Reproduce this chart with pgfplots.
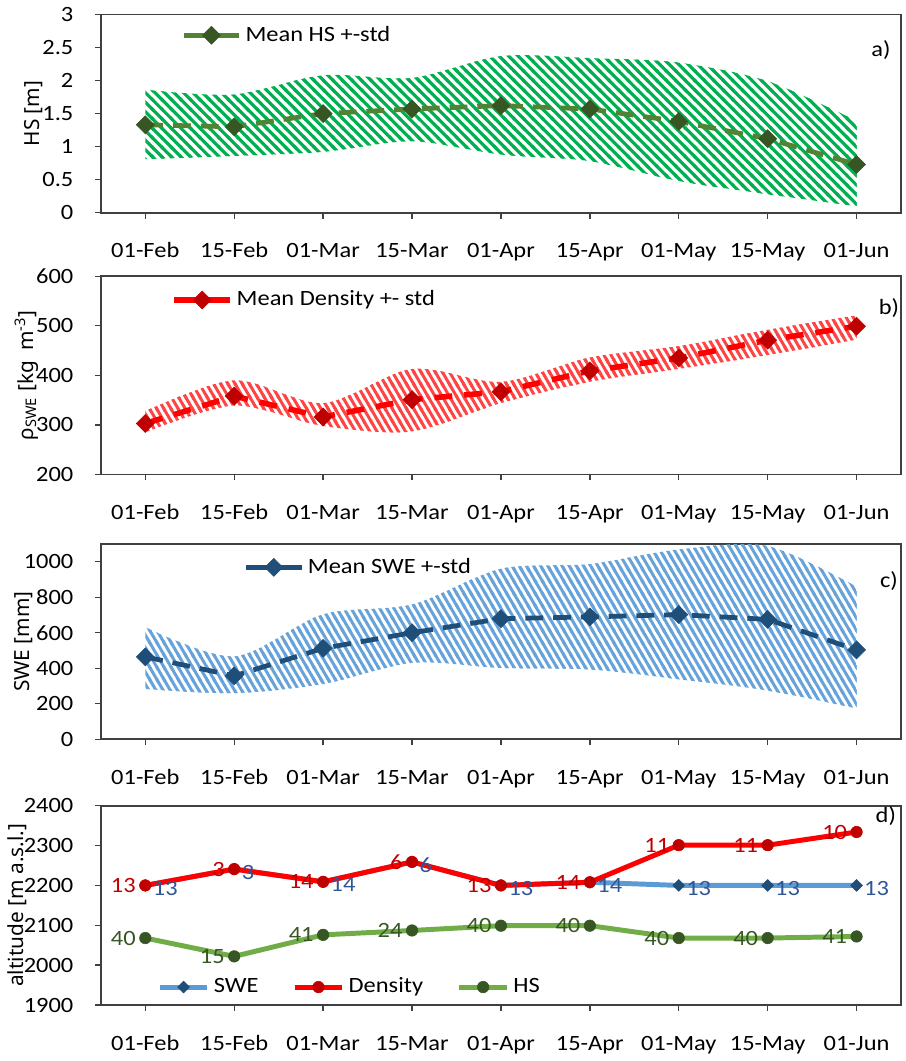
\documentclass[border=0pt]{standalone}
\usepackage{fontspec}
\setmainfont{Carlito}[FakeStretch=1.12]
\newfontfamily\labfont{Noto Sans}
\usepackage{pgfplots}
\pgfplotsset{compat=1.18}
\usepgfplotslibrary{fillbetween}
\usetikzlibrary{patterns}

\definecolor{hsline}{HTML}{548235}
\definecolor{hsmark}{HTML}{375623}
\definecolor{hsband}{HTML}{00B050}
\definecolor{dline}{HTML}{FF0000}
\definecolor{dmark}{HTML}{C00000}
\definecolor{dband}{HTML}{FF4444}
\definecolor{sline}{HTML}{1F4E79}
\definecolor{sband}{HTML}{67A3DB}
\definecolor{swel}{HTML}{5B9BD5}
\definecolor{hsl}{HTML}{70AD47}
\definecolor{slab}{HTML}{2F5597}

% wide downward diagonal stripes, 45 deg
\pgfdeclarepatternformonly{stripesflat}{\pgfqpoint{-1pt}{-1pt}}{\pgfqpoint{5.8pt}{5.8pt}}{\pgfqpoint{4.8pt}{4.8pt}}{%
  \pgfsetlinewidth{1.6pt}%
  \pgfpathmoveto{\pgfqpoint{-1pt}{5.8pt}}%
  \pgfpathlineto{\pgfqpoint{5.8pt}{-1pt}}%
  \pgfusepath{stroke}}
% steeper stripes, about 60 deg
\pgfdeclarepatternformonly{stripessteep}{\pgfqpoint{-1pt}{-1.2pt}}{\pgfqpoint{4.6pt}{7.4pt}}{\pgfqpoint{3.6pt}{6.2pt}}{%
  \pgfsetlinewidth{1.5pt}%
  \pgfpathmoveto{\pgfqpoint{-0.6pt}{7.23pt}}%
  \pgfpathlineto{\pgfqpoint{4.2pt}{-1.03pt}}%
  \pgfusepath{stroke}}

\pgfplotsset{
  panel/.style={
    scale only axis, width=403.5pt,
    xmin=-0.5, xmax=8.5, xtick={0,...,8},
    xticklabels={01-Feb,15-Feb,01-Mar,15-Mar,01-Apr,15-Apr,01-May,15-May,01-Jun},
    xtick pos=bottom, ytick pos=left,
    tick align=outside, major tick length=3pt,
    every tick/.style={black!75, line width=0.7pt},
    axis line style={black!75, line width=0.8pt},
    /pgf/number format/assume math mode=true,
    /pgf/number format/1000 sep={},
    xticklabel style={anchor=base, yshift=-19.8pt},
    yticklabel style={anchor=east, xshift=-7pt},
    every axis y label/.style={rotate=90, anchor=center,
      font=\labfont\fontsize{10.5}{12}\selectfont},
    legend style={draw=none, fill=none, inner sep=0pt, anchor=west},
    legend cell align=left,
    legend image code/.code={\draw[mark repeat=2,mark phase=2,#1,solid]
      plot coordinates {(0pt,0pt) (14pt,0pt) (28pt,0pt)};},
  },
  bandpath/.style={draw=none, smooth, forget plot},
}

\begin{document}
\fontsize{11}{13}\selectfont
\begin{tikzpicture}

% a) snow depth
\begin{axis}[panel, at={(49pt,-107pt)}, anchor=south west, height=100pt,
  ymin=0, ymax=3, ytick={0,0.5,1,1.5,2,2.5,3}, ylabel={HS [m]},
  ylabel style={at={(axis description cs:-0.084,0.5)}},
  legend style={at={(axis description cs:0.1,0.895)}}]
\addplot[bandpath, name path=upA] coordinates {
  (0,1.86) (1,1.79) (2,2.08) (3,2.04) (4,2.37) (5,2.34) (6,2.27) (7,1.99) (8,1.39)};
\addplot[bandpath, name path=loA] coordinates {
  (0,0.81) (1,0.86) (2,0.92) (3,1.08) (4,0.88) (5,0.78) (6,0.48) (7,0.28) (8,0.10)};
\addplot[draw=none, forget plot, pattern=stripesflat, pattern color=hsband]
  fill between[of=upA and loA];
\addplot[hsline, line width=2.4pt, dash pattern=on 9pt off 5pt,
  mark=square*, mark size=3.2pt,
  mark options={solid, rotate=45, fill=hsmark, draw=hsmark, line width=0.3pt}]
  coordinates {(0,1.33) (1,1.30) (2,1.50) (3,1.57) (4,1.62) (5,1.57) (6,1.38) (7,1.12) (8,0.73)};
\addlegendentry{Mean HS +-std}
\node at (axis description cs:0.975,0.82) {a)};
\end{axis}

% b) density
\begin{axis}[panel, at={(49pt,-239pt)}, anchor=south west, height=100pt,
  ymin=200, ymax=600, ytick={200,300,...,600},
  ylabel={ρ\textsubscript{SWE} [kg\enspace m\textsuperscript{-3}]},
  ylabel style={at={(axis description cs:-0.093,0.5)}},
  legend style={at={(axis description cs:0.088,0.88)}}]
\addplot[bandpath, name path=upB] coordinates {
  (0,328) (1,390) (2,344) (3,413) (4,387) (5,436) (6,459) (7,492) (8,521)};
\addplot[bandpath, name path=loB] coordinates {
  (0,285) (1,339) (2,298) (3,287) (4,344) (5,387) (6,413) (7,441) (8,472)};
\addplot[draw=none, forget plot, pattern=stripessteep, pattern color=dband]
  fill between[of=upB and loB];
\addplot[dline, line width=2.8pt, dash pattern=on 9pt off 6pt,
  mark=square*, mark size=3.2pt,
  mark options={solid, rotate=45, fill=dmark, draw=dmark, line width=0.3pt}]
  coordinates {(0,303) (1,358) (2,316) (3,351) (4,367) (5,409) (6,435) (7,471) (8,499)};
\addlegendentry{Mean Density +- std}
\node at (axis description cs:0.985,0.84) {b)};
\end{axis}

% c) SWE
\begin{axis}[panel, at={(49pt,-372.5pt)}, anchor=south west, height=98.5pt,
  ymin=0, ymax=1100, ytick={0,200,...,1000}, ylabel={SWE [mm]},
  ylabel style={at={(axis description cs:-0.097,0.5)}},
  legend style={at={(axis description cs:0.178,0.88)}}]
\addplot[bandpath, name path=upC] coordinates {
  (0,631) (1,466) (2,704) (3,759) (4,960) (5,987) (6,1069) (7,1088) (8,859)};
\addplot[bandpath, name path=loC] coordinates {
  (0,283) (1,260) (2,311) (3,430) (4,402) (5,393) (6,338) (7,274) (8,174)};
\addplot[draw=none, forget plot, pattern=stripessteep, pattern color=sband]
  fill between[of=upC and loC];
\addplot[sline, line width=2.4pt, dash pattern=on 9pt off 5pt,
  mark=square*, mark size=3.2pt,
  mark options={solid, rotate=45, fill=sline, draw=sline, line width=0.3pt}]
  coordinates {(0,464) (1,357) (2,512) (3,600) (4,679) (5,689) (6,702) (7,675) (8,503)};
\addlegendentry{Mean SWE +-std}
\node at (axis description cs:0.985,0.81) {c)};
\end{axis}

% d) mean altitude of stations, with number of stations
\begin{axis}[panel, at={(49pt,-506.5pt)}, anchor=south west, height=100.5pt,
  ymin=1900, ymax=2400, ytick={1900,2000,...,2400}, ylabel={altitude [m a.s.l.]},
  ylabel style={at={(axis description cs:-0.105,0.5)}},
  legend columns=3,
  legend style={at={(axis description cs:0.07,0.09)},
    /tikz/every even column/.append style={column sep=15pt}},
  legend image code/.code={\draw[mark repeat=2,mark phase=2,#1]
      plot coordinates {(0pt,0pt) (12pt,0pt) (24pt,0pt)};},
  point meta=explicit symbolic, nodes near coords]
\addplot[swel, line width=2.5pt, mark=square*, mark size=2.1pt,
  mark options={rotate=45, fill=sline, draw=sline, line width=0.3pt},
  every node near coord/.style={anchor=west, text=slab, xshift=0pt, yshift=-1.5pt}]
  coordinates {(0,2200)[13] (1,2241)[3] (2,2209)[14] (3,2259)[6] (4,2200)[13]
               (5,2208)[14] (6,2200)[13] (7,2200)[13] (8,2200)[13]};
\addlegendentry{SWE}
\addplot[dline, line width=2.5pt, mark=*, mark size=2.9pt,
  mark options={fill=dmark, draw=dmark, line width=0.3pt},
  every node near coord/.style={anchor=east, text=dmark, xshift=-1pt}]
  coordinates {(0,2200)[13] (1,2241)[3] (2,2209)[14] (3,2259)[6] (4,2200)[13]
               (5,2208)[14] (6,2301)[11] (7,2301)[11] (8,2334)[10]};
\addlegendentry{Density}
\addplot[hsl, line width=2.5pt, mark=*, mark size=2.9pt,
  mark options={fill=hsmark, draw=hsmark, line width=0.3pt},
  every node near coord/.style={anchor=east, text=hsmark, xshift=-1pt}]
  coordinates {(0,2068)[40] (1,2022)[15] (2,2076)[41] (3,2087)[24] (4,2099)[40]
               (5,2099)[40] (6,2068)[40] (7,2068)[40] (8,2072)[41]};
\addlegendentry{HS}
\node at (axis description cs:0.981,0.95) {d)};
\end{axis}

% page frame, 910 x 1061 px at 0.5 pt per px
\path (0,0) rectangle (455pt,-530.5pt);
\end{tikzpicture}
\end{document}
